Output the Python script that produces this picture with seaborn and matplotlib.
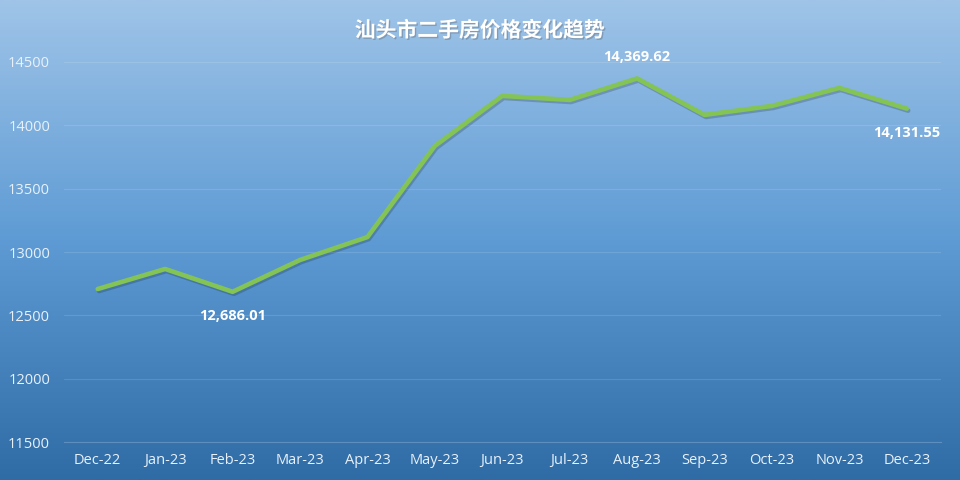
import numpy as np
import pandas as pd
import seaborn as sns
import matplotlib.pyplot as plt
import matplotlib.patheffects as pe
from matplotlib.colors import LinearSegmentedColormap

months = ['Dec-22', 'Jan-23', 'Feb-23', 'Mar-23', 'Apr-23', 'May-23', 'Jun-23',
          'Jul-23', 'Aug-23', 'Sep-23', 'Oct-23', 'Nov-23', 'Dec-23']
prices = [12708, 12866, 12686.01, 12937, 13118, 13837, 14232,
          14200, 14369.62, 14082, 14153, 14295, 14131.55]
yticks = [11500, 12000, 12500, 13000, 13500, 14000, 14500]

df = pd.DataFrame({'month': months, 'price': prices})

sns.set_style('white')
plt.rcParams['font.family'] = ['Open Sans', 'Noto Sans CJK SC', 'DejaVu Sans']

fig = plt.figure(figsize=(9.6, 4.8), dpi=100)

# gradient background over whole figure
bg = fig.add_axes([0, 0, 1, 1], zorder=0)
cmap = LinearSegmentedColormap.from_list('bg', ['#9fc4e8', '#5e9bd4', '#2f6ca6'])
bg.imshow(np.linspace(0, 1, 256).reshape(-1, 1), aspect='auto', cmap=cmap,
          extent=[0, 1, 0, 1])
bg.axis('off')

ax = fig.add_axes([0.0667, 0.079, 0.913, 0.792], zorder=1)
ax.patch.set_alpha(0)

sns.lineplot(data=df, x='month', y='price', ax=ax, color='#84c455', linewidth=3.3,
             sort=False, solid_capstyle='round', solid_joinstyle='round',
             path_effects=[pe.SimpleLineShadow(offset=(1, -1.5), alpha=0.18),
                           pe.Normal()])

ax.set_ylim(11500, 14500)
ax.set_xlim(-0.5, len(months) - 0.5)
ax.set_yticks(yticks)
ax.set_yticklabels([str(v) for v in yticks])
ax.set_xlabel('')
ax.set_ylabel('')
ax.grid(axis='y', color='white', alpha=0.12, linewidth=0.8)
for s in ['top', 'right', 'left']:
    ax.spines[s].set_visible(False)
ax.spines['bottom'].set_color((1, 1, 1, 0.2))
ax.tick_params(axis='both', colors='#e8f1fa', labelsize=10.5, length=0, pad=8)
ax.tick_params(axis='y', pad=10)
ax.set_xticks(np.arange(-0.5, len(months), 1), minor=True)
ax.tick_params(axis='x', which='minor', length=4, color=(1, 1, 1, 0.2))

# labels on min, max and last point
i_min = int(np.argmin(prices))
i_max = int(np.argmax(prices))
i_last = len(prices) - 1
for i, dy in [(i_min, -24), (i_max, 21), (i_last, -24)]:
    ax.annotate(f'{prices[i]:,.2f}', (i, prices[i]), xytext=(0, dy),
                textcoords='offset pixels',
                ha='center', va='center', color='white', fontsize=10.5,
                fontweight='bold')

fig.text(0.5, 0.937, '汕头市二手房价格变化趋势', ha='center', va='center',
         color='white', fontsize=15, fontweight='bold',
         family=['Noto Sans CJK SC', 'DejaVu Sans'],
         path_effects=[pe.withSimplePatchShadow(offset=(1, -1), alpha=0.3)])

fig.savefig('out.png', dpi=100)
